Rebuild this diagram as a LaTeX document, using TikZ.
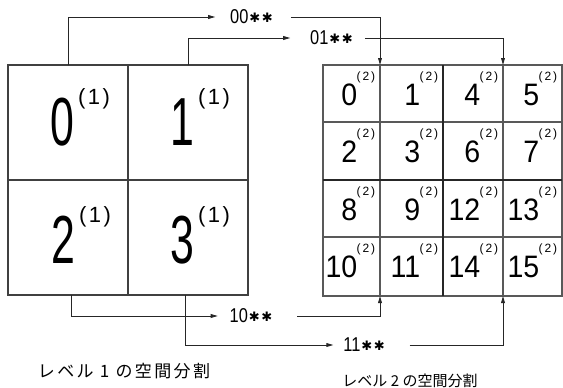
\documentclass[tikz,border=0pt]{standalone}
\usepackage{fontspec}
\setmainfont{Liberation Sans}
\newfontfamily\cjk{Noto Sans CJK JP}
\newfontfamily\cjkwide[LetterSpace=14]{Noto Sans CJK JP}
\newfontfamily\bigdig[FakeStretch=0.63]{Liberation Sans}
\newfontfamily\middig[FakeStretch=0.92]{Liberation Sans}
\newfontfamily\labdig[FakeStretch=0.82]{Liberation Sans}
\newfontfamily\symf{DejaVu Sans}
\usetikzlibrary{arrows.meta}
\newcommand\bigcell[2]{{\bigdig\fontsize{68}{68}\selectfont #1}\kern4pt\raisebox{41pt}{\fontsize{22}{22}\selectfont(\kern2.5pt#2\kern2.5pt)}}
\newcommand\smcell[2]{{\middig\fontsize{31}{31}\selectfont #1}\kern-0.5pt\raisebox{25pt}{\fontsize{12}{12}\selectfont(\kern1.8pt#2\kern1.8pt)}}
\newcommand\astr{{\symf\fontsize{13}{13}\selectfont\raisebox{1.5pt}{✱}}}
\newcommand\lab[1]{{\labdig\fontsize{20}{20}\selectfont #1}\kern1pt\astr\kern1.5pt\astr}
\begin{document}
\begin{tikzpicture}[x=1pt,y=-1pt,
  lcell/.style={draw=black!75,line width=1.1pt,rectangle,inner sep=0pt,outer sep=0pt,minimum width=120pt,minimum height=115pt},
  rcell/.style={draw=black!65,line width=1.1pt,rectangle,inner sep=0pt,outer sep=0pt},
  midline/.style={draw=black!85,line width=1.3pt},
  txt/.style={inner sep=0pt,outer sep=0pt},
  lbl/.style={inner sep=0pt,outer sep=0pt},
  arr/.style={draw=black!85,line width=0.9pt,-{Triangle[length=7pt,width=3.8pt]}},
  ln/.style={draw=black!85,line width=0.9pt}]
\useasboundingbox (0,0) rectangle (563,388);
% level 1 grid
\node[lcell] (c0) at (68,122.5) {};
\node[lcell] (c1) at (188,122.5) {};
\node[lcell] (c2) at (68,237.5) {};
\node[lcell] (c3) at (188,237.5) {};
\node[txt,anchor=base east] (n0) at (110,145) {\bigcell{0}{1}};
\node[txt,anchor=base east] (n1) at (230,145) {\bigcell{1}{1}};
\node[txt,anchor=base east] (n2) at (111,263) {\bigcell{2}{1}};
\node[txt,anchor=base east] (n3) at (230,263) {\bigcell{3}{1}};
% level 2 grid
\foreach \n/\xa/\xb/\ya/\yb in {
  0/323/380/65/122, 1/380/443/65/122, 4/443/503/65/122, 5/503/562/65/122,
  2/323/380/122/180, 3/380/443/122/180, 6/443/503/122/180, 7/503/562/122/180,
  8/323/380/180/237, 9/380/443/180/237, 12/443/503/180/237, 13/503/562/180/237,
  10/323/380/237/296, 11/380/443/237/296, 14/443/503/237/296, 15/503/562/237/296}{
  \node[rcell,minimum width={\xb-\xa},minimum height={\yb-\ya}] (r\n) at ({(\xa+\xb)/2},{(\ya+\yb)/2}) {};
  \node[txt,anchor=base east] (m\n) at (\xb-5,\ya+40) {\smcell{\n}{2}};
}
\draw[midline] (r1.north east) -- (r11.south east);
\draw[midline] (r8.north west) -- (r13.north east);
% labels
\node[lbl] (t00) at (251.5,17) {\lab{00}};
\node[lbl] (t01) at (331.5,38) {\lab{01}};
\node[lbl] (t10) at (251,316) {\lab{10}};
\node[lbl] (t11) at (364,345) {\lab{11}};
% connectors
\draw[arr] (c0.north) |- ([xshift=-15pt]t00.west);
\draw[arr] ([xshift=18pt]t00.east) -| (r0.north east);
\draw[arr] (c1.north) |- ([xshift=-20pt]t01.west);
\draw[arr] ([xshift=12pt]t01.east) -| (r4.north east);
\draw[arr] ([xshift=3pt]c2.south) |- ([xshift=-12pt]t10.west);
\draw[arr] ([xshift=25pt]t10.east) -| (r10.south east);
\draw[arr] ([xshift=-3pt]c3.south) |- ([xshift=-10pt]t11.west);
\draw[arr] ([xshift=25pt]t11.east) -| (r14.south east);
% captions
\node[lbl] (cap1) at (124,371) {\cjkwide\fontsize{17}{17}\selectfont レベル 1 の空間分割};
\node[lbl] (cap2) at (410,381) {\cjk\fontsize{15}{15}\selectfont レベル 2 の空間分割};
\end{tikzpicture}
\end{document}
